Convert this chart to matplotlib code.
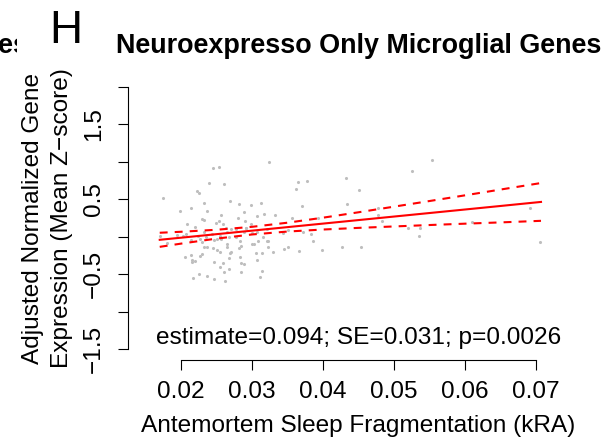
"""Painel H: fragmentacao do sono x expressao de genes microgliais (Neuroexpresso)."""
import matplotlib
matplotlib.use("Agg")
import matplotlib.pyplot as plt
from matplotlib.transforms import Bbox

plt.rcParams["font.family"] = ["Liberation Sans", "DejaVu Sans"]

# kRA de cada sujeito e expressao ajustada (media de z-score)
KRA = [
    0.0175, 0.0198, 0.0214, 0.0208, 0.0206, 0.0214, 0.0215, 0.0216, 0.0220, 0.0217,
    0.0226, 0.0236, 0.0247, 0.0262, 0.0245, 0.0253, 0.0240, 0.0261, 0.0223, 0.0226,
    0.0232, 0.0237, 0.0230, 0.0232, 0.0220, 0.0214, 0.0227, 0.0232, 0.0237, 0.0230,
    0.0227, 0.0245, 0.0251, 0.0246, 0.0255, 0.0260, 0.0267, 0.0269, 0.0282, 0.0288,
    0.0298, 0.0313, 0.0257, 0.0253, 0.0249, 0.0259, 0.0263, 0.0251, 0.0247, 0.0256,
    0.0265, 0.0265, 0.0269, 0.0271, 0.0267, 0.0281, 0.0285, 0.0283, 0.0285, 0.0288,
    0.0285, 0.0280, 0.0290, 0.0292, 0.0299, 0.0289, 0.0283, 0.0307, 0.0317, 0.0332,
    0.0321, 0.0308, 0.0300, 0.0303, 0.0321, 0.0323, 0.0322, 0.0305, 0.0314, 0.0307,
    0.0314, 0.0311, 0.0330, 0.0324, 0.0345, 0.0351, 0.0366, 0.0356, 0.0362, 0.0365,
    0.0377, 0.0370, 0.0383, 0.0386, 0.0399, 0.0393, 0.0427, 0.0432, 0.0434, 0.0450,
    0.0454, 0.0478, 0.0478, 0.0171, 0.0180, 0.0194, 0.0203, 0.0207, 0.0224, 0.0229,
    0.0232, 0.0265, 0.0243, 0.0255, 0.0268, 0.0271, 0.0277, 0.0292, 0.0307, 0.0344,
    0.0350, 0.0372, 0.0255, 0.0259, 0.0235, 0.0278, 0.0300, 0.0316, 0.0483, 0.0519,
    0.0537, 0.0535, 0.0526, 0.0554, 0.0610, 0.0692, 0.0705,
]
EXPR = [
    0.510, 0.341, 0.381, 0.168, -0.276, -0.245, -0.312, -0.343, -0.321, -0.548,
    -0.503, -0.525, -0.565, -0.588, 0.910, 0.928, 0.710, 0.701, 0.608, 0.577,
    0.444, 0.341, 0.230, 0.217, 0.124, -0.045, -0.036, -0.134, -0.134, -0.228,
    -0.259, -0.152, -0.174, -0.339, -0.410, -0.476, -0.432, 0.470, 0.435, 0.324,
    0.421, 0.448, 0.284, 0.204, 0.177, 0.172, 0.110, -0.036, -0.045, -0.032,
    -0.099, -0.143, -0.223, -0.201, -0.281, -0.156, -0.125, -0.276, -0.348, -0.365,
    -0.472, 0.248, 0.208, 0.115, 0.164, 0.057, -0.059, 0.270, 0.301, 0.288,
    0.097, -0.059, -0.099, -0.099, -0.059, -0.059, -0.143, -0.223, -0.223, -0.312,
    -0.459, -0.539, -0.201, 0.990, -0.165, -0.134, -0.188, 0.248, 0.630, 0.724,
    0.737, 0.408, 0.030, -0.054, -0.179, 0.248, -0.139, 0.777, 0.435, 0.621,
    -0.139, 0.381, 0.288, 0.004, -0.090, 0.017, 0.012, 0.039, 0.012, -0.072,
    0.066, 0.057, 0.030, 0.012, -0.010, 0.097, 0.097, 0.110, 0.066, 0.044,
    0.092, 0.066, -0.201, -0.348, -0.001, -0.001, 0.044, -0.001, 0.204, 0.110,
    0.110, 0.004, 0.870, 1.017, 0.195, 0.377, -0.076,
]

# reta ajustada e banda de 95% lidas em alguns valores de kRA
FIT_X = [0.017, 0.020, 0.025, 0.030, 0.035, 0.040, 0.045, 0.050, 0.055, 0.060, 0.065, 0.0707]
FIT_Y = [-0.043, -0.015, 0.032, 0.079, 0.126, 0.173, 0.220, 0.267, 0.314, 0.361, 0.408, 0.462]
FIT_LO = [-0.137, -0.094, -0.027, 0.028, 0.067, 0.094, 0.116, 0.135, 0.154, 0.172, 0.189, 0.210]
FIT_HI = [0.051, 0.064, 0.091, 0.130, 0.185, 0.252, 0.324, 0.399, 0.474, 0.550, 0.627, 0.714]

X_TICKS = [0.02, 0.03, 0.04, 0.05, 0.06, 0.07]
Y_TICKS = [-1.5, -1.0, -0.5, 0.0, 0.5, 1.0, 1.5, 2.0]
Y_LABELS = ["\u22121.5", "", "\u22120.5", "", "0.5", "", "1.5", ""]

STATS = "estimate=0.094; SE=0.031; p=0.0026"
TITLE = "Neuroexpresso Only Microglial Genes"

W, H = 612, 445
FS = 17.6


def main() -> None:
    fig = plt.figure(figsize=(W / 100, H / 100), dpi=100)
    ax = fig.add_axes([127.7 / W, 1 - 359.5 / H, (589 - 127.7) / W, (359.5 - 76.6) / H])

    ax.scatter(KRA, EXPR, s=5, color="#bebebe", linewidths=0, zorder=1)
    ax.plot(FIT_X, FIT_Y, color="red", lw=1.5, zorder=3)
    for band in (FIT_LO, FIT_HI):
        ax.plot(FIT_X, band, color="red", lw=1.5, ls=(0, (3.8, 3.4)), zorder=3)

    ax.set_xlim(0.01249, 0.07746)
    ax.set_ylim(-1.639, 2.133)
    for side in ("top", "right"):
        ax.spines[side].set_visible(False)
    ax.spines["left"].set_bounds(-1.5, 2.0)
    ax.spines["bottom"].set_bounds(0.02, 0.07)
    for side in ("left", "bottom"):
        ax.spines[side].set_linewidth(0.8)

    ax.set_xticks(X_TICKS, [f"{t:.2f}" for t in X_TICKS])
    ax.set_yticks(Y_TICKS, Y_LABELS)
    ax.tick_params(axis="both", direction="out", length=7.2, width=0.8, labelsize=FS)
    ax.tick_params(axis="x", pad=8)
    ax.tick_params(axis="y", pad=9)
    for lab in ax.get_yticklabels():
        lab.set_rotation(90)
        lab.set_va("center")

    ax.set_xlabel("Antemortem Sleep Fragmentation (kRA)", fontsize=FS, labelpad=9)
    ax.set_ylabel("Adjusted Normalized Gene\nExpression (Mean Z\u2212score)",
                  fontsize=FS, labelpad=7, linespacing=1.45)
    ax.set_title(TITLE, fontsize=19.4, fontweight="bold", pad=17)

    ax.text(0.5, -1.43, STATS, transform=ax.get_yaxis_transform(),
            ha="center", va="baseline", fontsize=FS)

    fig.text(49.5 / W, 1 - 43 / H, "H", fontsize=33, va="baseline", ha="left")
    # titulo do painel vizinho, cortado na borda
    cut = fig.text(29 / W, 1 - 53 / H, "Genes", fontsize=19.4, fontweight="bold",
                   va="baseline", ha="right")
    cut.set_clip_on(True)
    cut.set_clip_box(Bbox.from_extents(0, 0, 17, H))

    fig.savefig("out.png", dpi=100)
    plt.close(fig)


if __name__ == "__main__":
    main()
